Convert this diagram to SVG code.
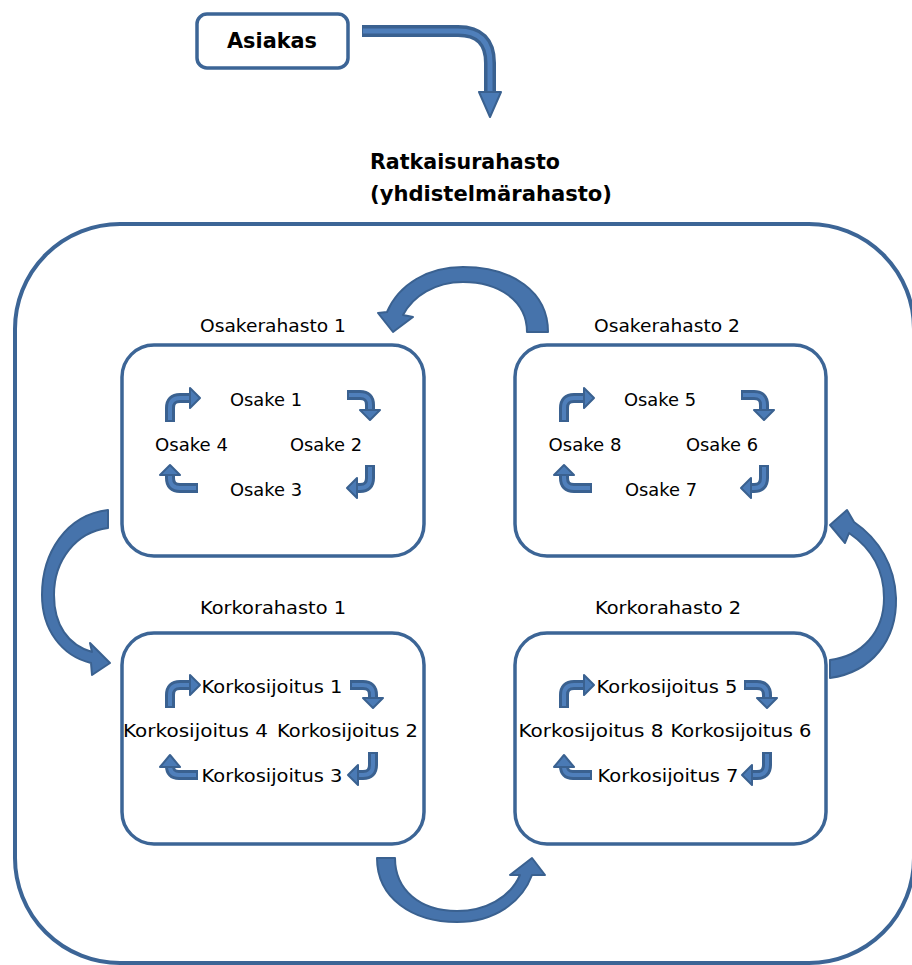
<svg xmlns="http://www.w3.org/2000/svg" xmlns:xlink="http://www.w3.org/1999/xlink" width="912" height="965" viewBox="0 0 912 965">
<style>
.box{fill:#fff;stroke:#3c6596;stroke-width:3.5}
.outer{fill:#fff;stroke:#3c6596;stroke-width:4}
.t{font-family:"DejaVu Sans","Liberation Sans",sans-serif;font-size:17px;fill:#000;text-anchor:middle}
.tb{font-family:"DejaVu Sans","Liberation Sans",sans-serif;font-size:21px;font-weight:bold;fill:#000}
.shaft{fill:none;stroke:#3a6190;stroke-width:10}
.hi{fill:none;stroke:#4f7fbb;stroke-width:4}
.head{fill:#4a7ab5;stroke:#3a6190;stroke-width:2;stroke-linejoin:round}
.big{fill:#4673ab;stroke:#3a6190;stroke-width:2;stroke-linejoin:round}
</style>
<defs>
<g id="smallOsake">
<path class="shaft" d="M170,422 V408 Q170,398 180,398 H191"/><path class="hi" d="M170,420 V408 Q170,398 180,398 H191"/><polygon class="head" points="190,388 200,398 190,408"/>
<path class="shaft" d="M347,395 H360 Q370,395 370,405 V411"/><path class="hi" d="M349,395 H360 Q370,395 370,405 V411"/><polygon class="head" points="360,410 370,420 380,410"/>
<path class="shaft" d="M370,465 V478 Q370,488 360,488 H356"/><path class="hi" d="M370,467 V478 Q370,488 360,488 H356"/><polygon class="head" points="357,478 347,488 357,498"/>
<path class="shaft" d="M198,488 H180 Q170,488 170,478 V474"/><path class="hi" d="M196,488 H180 Q170,488 170,478 V474"/><polygon class="head" points="160,475 170,465 180,475"/>
</g>
<g id="smallKorko">
<path class="shaft" d="M170,708 V695 Q170,685 180,685 H191"/><path class="hi" d="M170,706 V695 Q170,685 180,685 H191"/><polygon class="head" points="190,675 200,685 190,695"/>
<path class="shaft" d="M350,685 H363 Q373,685 373,695 V699"/><path class="hi" d="M352,685 H363 Q373,685 373,695 V699"/><polygon class="head" points="363,698 373,708 383,698"/>
<path class="shaft" d="M373,752 V765 Q373,775 363,775 H357"/><path class="hi" d="M373,754 V765 Q373,775 363,775 H357"/><polygon class="head" points="358,765 348,775 358,785"/>
<path class="shaft" d="M198,775 H179 Q170,775 170,766"/><path class="hi" d="M196,775 H179 Q170,775 170,766"/><polygon class="head" points="160,767 170,755 180,767"/>
</g>
</defs>

<g id="ratkaisurahasto">
<rect class="outer" x="15" y="224" width="899" height="739" rx="105" ry="105"/>
<text class="tb" x="370" y="169" textLength="190" lengthAdjust="spacingAndGlyphs">Ratkaisurahasto</text>
<text class="tb" x="370" y="201" textLength="242" lengthAdjust="spacingAndGlyphs">(yhdistelmärahasto)</text>
</g>

<g id="asiakas">
<rect class="box" x="197" y="14" width="151" height="54" rx="10" ry="10"/>
<text class="tb" x="227" y="48" font-size="22" textLength="90" lengthAdjust="spacingAndGlyphs">Asiakas</text>
</g>

<g id="osakerahasto1">
<text class="t" x="273" y="332" textLength="146" lengthAdjust="spacingAndGlyphs">Osakerahasto 1</text>
<rect class="box" x="122" y="345" width="302" height="211" rx="32" ry="32"/>
<text class="t" x="266" y="406" textLength="72" lengthAdjust="spacingAndGlyphs">Osake 1</text>
<text class="t" x="191.5" y="451" textLength="73" lengthAdjust="spacingAndGlyphs">Osake 4</text>
<text class="t" x="326" y="451" textLength="72" lengthAdjust="spacingAndGlyphs">Osake 2</text>
<text class="t" x="266" y="496" textLength="72" lengthAdjust="spacingAndGlyphs">Osake 3</text>
</g>

<g id="osakerahasto2">
<text class="t" x="667" y="332" textLength="146" lengthAdjust="spacingAndGlyphs">Osakerahasto 2</text>
<rect class="box" x="515" y="345" width="311" height="211" rx="32" ry="32"/>
<text class="t" x="660" y="406" textLength="72" lengthAdjust="spacingAndGlyphs">Osake 5</text>
<text class="t" x="585" y="451" textLength="73" lengthAdjust="spacingAndGlyphs">Osake 8</text>
<text class="t" x="722" y="451" textLength="72" lengthAdjust="spacingAndGlyphs">Osake 6</text>
<text class="t" x="661" y="496" textLength="72" lengthAdjust="spacingAndGlyphs">Osake 7</text>
</g>

<g id="korkorahasto1">
<text class="t" x="273" y="614" textLength="146" lengthAdjust="spacingAndGlyphs">Korkorahasto 1</text>
<rect class="box" x="122" y="633" width="302" height="211" rx="32" ry="32"/>
<text class="t" x="272" y="693" textLength="141" lengthAdjust="spacingAndGlyphs">Korkosijoitus 1</text>
<text class="t" x="195.5" y="737" textLength="145" lengthAdjust="spacingAndGlyphs">Korkosijoitus 4</text>
<text class="t" x="347.5" y="737" textLength="141" lengthAdjust="spacingAndGlyphs">Korkosijoitus 2</text>
<text class="t" x="272" y="782" textLength="141" lengthAdjust="spacingAndGlyphs">Korkosijoitus 3</text>
</g>

<g id="korkorahasto2">
<text class="t" x="668" y="614" textLength="146" lengthAdjust="spacingAndGlyphs">Korkorahasto 2</text>
<rect class="box" x="515" y="633" width="311" height="211" rx="32" ry="32"/>
<text class="t" x="667" y="693" textLength="141" lengthAdjust="spacingAndGlyphs">Korkosijoitus 5</text>
<text class="t" x="591" y="737" textLength="145" lengthAdjust="spacingAndGlyphs">Korkosijoitus 8</text>
<text class="t" x="741" y="737" textLength="141" lengthAdjust="spacingAndGlyphs">Korkosijoitus 6</text>
<text class="t" x="668" y="782" textLength="141" lengthAdjust="spacingAndGlyphs">Korkosijoitus 7</text>
</g>

<g id="connectors">
<path d="M362,31 H458 Q490,31 490,63 V93" fill="none" stroke="#3a6190" stroke-width="12"/>
<path d="M363,31 H458 Q490,31 490,63 V93" fill="none" stroke="#4f7fbb" stroke-width="5"/>
<polygon class="head" points="479,92 501,92 490,117"/>

<path class="big" d="M548,332 C548,292 513,267 463,267 C428,267 399,284 387,312 L378,313 L393,332 L413,317 L403,315 C413,296 435,282 463,282 C498,282 527,300 527,332 Z"/>
<path class="big" d="M108,510 C66,515 42,553 42,595 C42,630 62,656 91,663 L92,675 L110,663 L90,643 L92,652 C68,645 54,625 54,595 C54,560 76,532 108,528 Z"/>
<path class="big" d="M377,858 C377,898 412,922 457,922 C495,922 522,902 532,875 L545,875 L532,858 L510,875 L520,875 C510,898 485,911 457,911 C420,911 395,890 395,858 Z"/>
<path class="big" d="M830,678 C872,672 897,640 896,598 C895,566 879,539 854,522 L847,510 L830,525 L845,543 L849,533 C871,548 884,570 884,598 C884,632 862,656 830,660 Z"/>

<use xlink:href="#smallOsake"/>
<use xlink:href="#smallOsake" transform="translate(394,0)"/>
<use xlink:href="#smallKorko"/>
<use xlink:href="#smallKorko" transform="translate(394,0)"/>
</g>
</svg>
